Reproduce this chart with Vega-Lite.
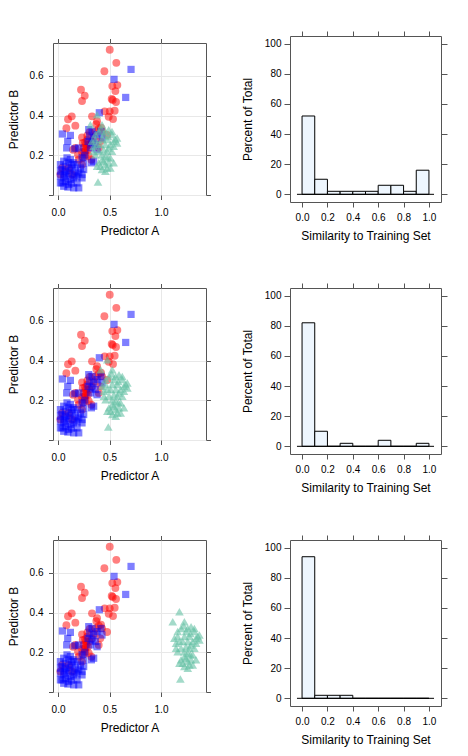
{
  "$schema": "https://vega.github.io/schema/vega-lite/v6.json",
  "background": "white",
  "padding": {"left": 6, "top": 30, "right": 5, "bottom": 5},
  "autosize": {"type": "pad"},
  "columns": 2,
  "bounds": "flush",
  "center": true,
  "spacing": {"row": 86, "column": 84},
  "config": {
    "view": {"stroke": "#555", "strokeWidth": 1},
    "axis": {"domain": false, "tickColor": "#555", "labelFont": "Liberation Sans", "titleFont": "Liberation Sans", "labelFontSize": 10, "titleFontSize": 12, "titleFontWeight": "normal", "labelColor": "#000", "titleColor": "#000", "labelFlush": false, "labelOverlap": false}
  },
  "datasets": {
    "red": [{"a":0.502,"b":0.731},{"a":0.566,"b":0.665},{"a":0.450,"b":0.623},{"a":0.527,"b":0.548},{"a":0.576,"b":0.553},{"a":0.557,"b":0.523},{"a":0.521,"b":0.483},{"a":0.531,"b":0.478},{"a":0.563,"b":0.468},{"a":0.223,"b":0.530},{"a":0.259,"b":0.500},{"a":0.233,"b":0.473},{"a":0.133,"b":0.396},{"a":0.097,"b":0.381},{"a":0.081,"b":0.336},{"a":0.168,"b":0.349},{"a":0.453,"b":0.421},{"a":0.502,"b":0.421},{"a":0.550,"b":0.424},{"a":0.492,"b":0.394},{"a":0.534,"b":0.382},{"a":0.330,"b":0.396},{"a":0.379,"b":0.371},{"a":0.372,"b":0.357},{"a":0.417,"b":0.339},{"a":0.427,"b":0.320},{"a":0.476,"b":0.302},{"a":0.233,"b":0.290},{"a":0.282,"b":0.279},{"a":0.272,"b":0.254},{"a":0.249,"b":0.237},{"a":0.291,"b":0.228},{"a":0.233,"b":0.217},{"a":0.265,"b":0.203},{"a":0.298,"b":0.195},{"a":0.324,"b":0.178},{"a":0.243,"b":0.187},{"a":0.304,"b":0.254},{"a":0.330,"b":0.270},{"a":0.356,"b":0.295},{"a":0.307,"b":0.317},{"a":0.395,"b":0.334},{"a":0.362,"b":0.320},{"a":0.146,"b":0.228},{"a":0.168,"b":0.237},{"a":0.194,"b":0.203},{"a":0.104,"b":0.136},{"a":0.039,"b":0.136},{"a":0.023,"b":0.103},{"a":0.136,"b":0.103},{"a":0.233,"b":0.153},{"a":0.201,"b":0.178},{"a":0.395,"b":0.237},{"a":0.411,"b":0.270},{"a":0.262,"b":0.265},{"a":0.275,"b":0.240},{"a":0.255,"b":0.215},{"a":0.285,"b":0.300},{"a":0.268,"b":0.225},{"a":0.240,"b":0.262}],
    "blue": [{"a":0.709,"b":0.632},{"a":0.544,"b":0.582},{"a":0.657,"b":0.491},{"a":0.401,"b":0.414},{"a":0.042,"b":0.307},{"a":0.120,"b":0.300},{"a":0.094,"b":0.270},{"a":0.084,"b":0.237},{"a":0.023,"b":0.153},{"a":0.055,"b":0.170},{"a":0.087,"b":0.187},{"a":0.120,"b":0.178},{"a":0.152,"b":0.162},{"a":0.185,"b":0.153},{"a":0.039,"b":0.128},{"a":0.071,"b":0.120},{"a":0.104,"b":0.111},{"a":0.136,"b":0.136},{"a":0.168,"b":0.120},{"a":0.201,"b":0.111},{"a":0.233,"b":0.103},{"a":0.023,"b":0.095},{"a":0.055,"b":0.086},{"a":0.087,"b":0.095},{"a":0.120,"b":0.078},{"a":0.152,"b":0.086},{"a":0.185,"b":0.095},{"a":0.039,"b":0.061},{"a":0.071,"b":0.069},{"a":0.104,"b":0.053},{"a":0.055,"b":0.044},{"a":0.152,"b":0.036},{"a":0.201,"b":0.036},{"a":0.185,"b":0.061},{"a":0.233,"b":0.086},{"a":0.136,"b":0.153},{"a":0.104,"b":0.162},{"a":0.071,"b":0.145},{"a":0.023,"b":0.120},{"a":0.249,"b":0.128},{"a":0.217,"b":0.136},{"a":0.023,"b":0.061},{"a":0.298,"b":0.329},{"a":0.330,"b":0.320},{"a":0.307,"b":0.295},{"a":0.346,"b":0.287},{"a":0.379,"b":0.304},{"a":0.330,"b":0.262},{"a":0.291,"b":0.270},{"a":0.362,"b":0.254},{"a":0.379,"b":0.228},{"a":0.346,"b":0.170},{"a":0.324,"b":0.162},{"a":0.259,"b":0.200},{"a":0.233,"b":0.187},{"a":0.201,"b":0.237},{"a":0.162,"b":0.233},{"a":0.427,"b":0.287},{"a":0.417,"b":0.320},{"a":0.314,"b":0.237},{"a":0.249,"b":0.162},{"a":0.095,"b":0.040},{"a":0.130,"b":0.060},{"a":0.060,"b":0.105},{"a":0.115,"b":0.125},{"a":0.160,"b":0.100}],
    "g1": [{"a":0.379,"b":0.404},{"a":0.314,"b":0.354},{"a":0.427,"b":0.354},{"a":0.492,"b":0.329},{"a":0.460,"b":0.320},{"a":0.395,"b":0.320},{"a":0.362,"b":0.304},{"a":0.573,"b":0.287},{"a":0.557,"b":0.279},{"a":0.524,"b":0.304},{"a":0.485,"b":0.295},{"a":0.427,"b":0.279},{"a":0.411,"b":0.254},{"a":0.460,"b":0.254},{"a":0.508,"b":0.254},{"a":0.540,"b":0.245},{"a":0.492,"b":0.237},{"a":0.443,"b":0.228},{"a":0.379,"b":0.254},{"a":0.346,"b":0.245},{"a":0.395,"b":0.220},{"a":0.476,"b":0.220},{"a":0.524,"b":0.220},{"a":0.427,"b":0.203},{"a":0.460,"b":0.195},{"a":0.508,"b":0.187},{"a":0.427,"b":0.178},{"a":0.395,"b":0.162},{"a":0.443,"b":0.170},{"a":0.460,"b":0.153},{"a":0.492,"b":0.162},{"a":0.411,"b":0.145},{"a":0.476,"b":0.136},{"a":0.508,"b":0.136},{"a":0.427,"b":0.128},{"a":0.379,"b":0.145},{"a":0.388,"b":0.066},{"a":0.540,"b":0.270},{"a":0.362,"b":0.279},{"a":0.330,"b":0.270},{"a":0.420,"b":0.334},{"a":0.443,"b":0.304},{"a":0.476,"b":0.279},{"a":0.362,"b":0.203},{"a":0.540,"b":0.162},{"a":0.346,"b":0.220},{"a":0.524,"b":0.320},{"a":0.573,"b":0.262},{"a":0.460,"b":0.120},{"a":0.485,"b":0.187}],
    "g2": [{"a":0.479,"b":0.404},{"a":0.414,"b":0.354},{"a":0.527,"b":0.354},{"a":0.592,"b":0.329},{"a":0.560,"b":0.320},{"a":0.495,"b":0.320},{"a":0.462,"b":0.304},{"a":0.673,"b":0.287},{"a":0.657,"b":0.279},{"a":0.624,"b":0.304},{"a":0.585,"b":0.295},{"a":0.527,"b":0.279},{"a":0.511,"b":0.254},{"a":0.560,"b":0.254},{"a":0.608,"b":0.254},{"a":0.640,"b":0.245},{"a":0.592,"b":0.237},{"a":0.543,"b":0.228},{"a":0.479,"b":0.254},{"a":0.446,"b":0.245},{"a":0.495,"b":0.220},{"a":0.576,"b":0.220},{"a":0.624,"b":0.220},{"a":0.527,"b":0.203},{"a":0.560,"b":0.195},{"a":0.608,"b":0.187},{"a":0.527,"b":0.178},{"a":0.495,"b":0.162},{"a":0.543,"b":0.170},{"a":0.560,"b":0.153},{"a":0.592,"b":0.162},{"a":0.511,"b":0.145},{"a":0.576,"b":0.136},{"a":0.608,"b":0.136},{"a":0.527,"b":0.128},{"a":0.479,"b":0.145},{"a":0.488,"b":0.066},{"a":0.640,"b":0.270},{"a":0.462,"b":0.279},{"a":0.430,"b":0.270},{"a":0.520,"b":0.334},{"a":0.543,"b":0.304},{"a":0.576,"b":0.279},{"a":0.462,"b":0.203},{"a":0.640,"b":0.162},{"a":0.446,"b":0.220},{"a":0.624,"b":0.320},{"a":0.673,"b":0.262},{"a":0.560,"b":0.120},{"a":0.585,"b":0.187}],
    "g3": [{"a":1.179,"b":0.404},{"a":1.114,"b":0.354},{"a":1.227,"b":0.354},{"a":1.292,"b":0.329},{"a":1.260,"b":0.320},{"a":1.195,"b":0.320},{"a":1.162,"b":0.304},{"a":1.373,"b":0.287},{"a":1.357,"b":0.279},{"a":1.324,"b":0.304},{"a":1.285,"b":0.295},{"a":1.227,"b":0.279},{"a":1.211,"b":0.254},{"a":1.260,"b":0.254},{"a":1.308,"b":0.254},{"a":1.340,"b":0.245},{"a":1.292,"b":0.237},{"a":1.243,"b":0.228},{"a":1.179,"b":0.254},{"a":1.146,"b":0.245},{"a":1.195,"b":0.220},{"a":1.276,"b":0.220},{"a":1.324,"b":0.220},{"a":1.227,"b":0.203},{"a":1.260,"b":0.195},{"a":1.308,"b":0.187},{"a":1.227,"b":0.178},{"a":1.195,"b":0.162},{"a":1.243,"b":0.170},{"a":1.260,"b":0.153},{"a":1.292,"b":0.162},{"a":1.211,"b":0.145},{"a":1.276,"b":0.136},{"a":1.308,"b":0.136},{"a":1.227,"b":0.128},{"a":1.179,"b":0.145},{"a":1.188,"b":0.066},{"a":1.340,"b":0.270},{"a":1.162,"b":0.279},{"a":1.130,"b":0.270},{"a":1.220,"b":0.334},{"a":1.243,"b":0.304},{"a":1.276,"b":0.279},{"a":1.162,"b":0.203},{"a":1.340,"b":0.162},{"a":1.146,"b":0.220},{"a":1.324,"b":0.320},{"a":1.373,"b":0.262},{"a":1.260,"b":0.120},{"a":1.285,"b":0.187}],
    "h1": [{"x0":0.0,"x1":0.1,"pct":52},{"x0":0.1,"x1":0.2,"pct":10},{"x0":0.2,"x1":0.3,"pct":2},{"x0":0.3,"x1":0.4,"pct":2},{"x0":0.4,"x1":0.5,"pct":2},{"x0":0.5,"x1":0.6,"pct":2},{"x0":0.6,"x1":0.7,"pct":6},{"x0":0.7,"x1":0.8,"pct":6},{"x0":0.8,"x1":0.9,"pct":2},{"x0":0.9,"x1":1.0,"pct":16}],
    "h2": [{"x0":0.0,"x1":0.1,"pct":82},{"x0":0.1,"x1":0.2,"pct":10},{"x0":0.2,"x1":0.3,"pct":0},{"x0":0.3,"x1":0.4,"pct":2},{"x0":0.4,"x1":0.5,"pct":0},{"x0":0.5,"x1":0.6,"pct":0},{"x0":0.6,"x1":0.7,"pct":4},{"x0":0.7,"x1":0.8,"pct":0},{"x0":0.8,"x1":0.9,"pct":0},{"x0":0.9,"x1":1.0,"pct":2}],
    "h3": [{"x0":0.0,"x1":0.1,"pct":94},{"x0":0.1,"x1":0.2,"pct":2},{"x0":0.2,"x1":0.3,"pct":2},{"x0":0.3,"x1":0.4,"pct":2},{"x0":0.4,"x1":0.5,"pct":0},{"x0":0.5,"x1":0.6,"pct":0},{"x0":0.6,"x1":0.7,"pct":0},{"x0":0.7,"x1":0.8,"pct":0},{"x0":0.8,"x1":0.9,"pct":0},{"x0":0.9,"x1":1.0,"pct":0}],
    "base": [{"x0":-0.04,"x1":1.04}]
  },
  "concat": [
    {
      "width": 153, "height": 152,
      "layer": [
        {"data": {"name": "red"}, "mark": {"type": "point", "shape": "circle", "filled": true, "color": "#FF0000", "opacity": 0.5, "size": 62, "strokeWidth": 0},
         "encoding": {
           "x": {"field": "a", "type": "quantitative", "scale": {"domain": [-0.049, 1.437], "nice": false, "zero": false}, "axis": {"orient": "bottom", "values": [0, 0.5, 1], "format": ".1f", "title": "Predictor A", "grid": true, "gridColor": "#E8E8E8", "tickSize": 4.5, "labelPadding": 8, "titlePadding": 8}},
           "y": {"field": "b", "type": "quantitative", "scale": {"domain": [0, 0.765], "nice": false, "zero": false}, "axis": {"orient": "left", "values": [0, 0.2, 0.4, 0.6], "labelExpr": "datum.value == 0 ? '' : format(datum.value, '.1f')", "title": "Predictor B", "grid": true, "gridColor": "#E8E8E8", "tickSize": 4.5, "labelPadding": 5.5, "titlePadding": 8.6}}
         }},
        {"data": {"name": "blue"}, "mark": {"type": "point", "shape": "square", "filled": true, "color": "#0000FF", "opacity": 0.5, "size": 52, "strokeWidth": 0},
         "encoding": {
           "x": {"field": "a", "type": "quantitative", "axis": {"orient": "top", "values": [0, 0.5, 1], "labels": false, "title": null, "grid": false, "tickSize": 4.5}},
           "y": {"field": "b", "type": "quantitative", "axis": {"orient": "right", "values": [0, 0.2, 0.4, 0.6], "labels": false, "title": null, "grid": false, "tickSize": 4.5}}
         }},
        {"data": {"name": "g1"}, "mark": {"type": "point", "shape": "triangle-up", "filled": true, "color": "#66C2A5", "opacity": 0.6, "size": 75, "strokeWidth": 0},
         "encoding": {
           "x": {"field": "a", "type": "quantitative", "axis": null},
           "y": {"field": "b", "type": "quantitative", "axis": null}
         }}
      ],
      "resolve": {"axis": {"x": "independent", "y": "independent"}}
    },
    {
      "width": 151, "height": 166,
      "layer": [
        {"data": {"name": "h1"}, "mark": {"type": "rect", "fill": "#EEF6FE", "stroke": "#000", "strokeWidth": 1},
         "encoding": {
           "x": {"field": "x0", "type": "quantitative", "scale": {"domain": [-0.095, 1.095], "nice": false, "zero": false}, "axis": {"orient": "bottom", "values": [0, 0.2, 0.4, 0.6, 0.8, 1], "format": ".1f", "title": "Similarity to Training Set", "grid": false, "tickSize": 5, "labelPadding": 5, "titlePadding": 8}},
           "x2": {"field": "x1"},
           "y": {"field": "pct", "type": "quantitative", "scale": {"domain": [-5.1, 105.1], "nice": false, "zero": false}, "axis": {"orient": "left", "values": [0, 20, 40, 60, 80, 100], "title": "Percent of Total", "grid": false, "tickSize": 6, "labelPadding": 3, "titlePadding": 9.4}},
           "y2": {"datum": 0}
         }},
        {"data": {"name": "base"}, "mark": {"type": "rule", "color": "#000", "strokeWidth": 1},
         "encoding": {
           "x": {"field": "x0", "type": "quantitative", "axis": {"orient": "top", "values": [0, 0.2, 0.4, 0.6, 0.8, 1], "labels": false, "title": null, "tickSize": 5}},
           "x2": {"field": "x1"},
           "y": {"datum": 0, "type": "quantitative", "axis": {"orient": "right", "values": [0, 20, 40, 60, 80, 100], "labels": false, "title": null, "tickSize": 6}}
         }}
      ],
      "resolve": {"axis": {"x": "independent", "y": "independent"}}
    },
    {
      "width": 153, "height": 152,
      "layer": [
        {"data": {"name": "red"}, "mark": {"type": "point", "shape": "circle", "filled": true, "color": "#FF0000", "opacity": 0.5, "size": 62, "strokeWidth": 0},
         "encoding": {
           "x": {"field": "a", "type": "quantitative", "scale": {"domain": [-0.049, 1.437], "nice": false, "zero": false}, "axis": {"orient": "bottom", "values": [0, 0.5, 1], "format": ".1f", "title": "Predictor A", "grid": true, "gridColor": "#E8E8E8", "tickSize": 4.5, "labelPadding": 8, "titlePadding": 8}},
           "y": {"field": "b", "type": "quantitative", "scale": {"domain": [0, 0.765], "nice": false, "zero": false}, "axis": {"orient": "left", "values": [0, 0.2, 0.4, 0.6], "labelExpr": "datum.value == 0 ? '' : format(datum.value, '.1f')", "title": "Predictor B", "grid": true, "gridColor": "#E8E8E8", "tickSize": 4.5, "labelPadding": 5.5, "titlePadding": 8.6}}
         }},
        {"data": {"name": "blue"}, "mark": {"type": "point", "shape": "square", "filled": true, "color": "#0000FF", "opacity": 0.5, "size": 52, "strokeWidth": 0},
         "encoding": {
           "x": {"field": "a", "type": "quantitative", "axis": {"orient": "top", "values": [0, 0.5, 1], "labels": false, "title": null, "grid": false, "tickSize": 4.5}},
           "y": {"field": "b", "type": "quantitative", "axis": {"orient": "right", "values": [0, 0.2, 0.4, 0.6], "labels": false, "title": null, "grid": false, "tickSize": 4.5}}
         }},
        {"data": {"name": "g2"}, "mark": {"type": "point", "shape": "triangle-up", "filled": true, "color": "#66C2A5", "opacity": 0.6, "size": 75, "strokeWidth": 0},
         "encoding": {
           "x": {"field": "a", "type": "quantitative", "axis": null},
           "y": {"field": "b", "type": "quantitative", "axis": null}
         }}
      ],
      "resolve": {"axis": {"x": "independent", "y": "independent"}}
    },
    {
      "width": 151, "height": 166,
      "layer": [
        {"data": {"name": "h2"}, "mark": {"type": "rect", "fill": "#EEF6FE", "stroke": "#000", "strokeWidth": 1},
         "encoding": {
           "x": {"field": "x0", "type": "quantitative", "scale": {"domain": [-0.095, 1.095], "nice": false, "zero": false}, "axis": {"orient": "bottom", "values": [0, 0.2, 0.4, 0.6, 0.8, 1], "format": ".1f", "title": "Similarity to Training Set", "grid": false, "tickSize": 5, "labelPadding": 5, "titlePadding": 8}},
           "x2": {"field": "x1"},
           "y": {"field": "pct", "type": "quantitative", "scale": {"domain": [-5.1, 105.1], "nice": false, "zero": false}, "axis": {"orient": "left", "values": [0, 20, 40, 60, 80, 100], "title": "Percent of Total", "grid": false, "tickSize": 6, "labelPadding": 3, "titlePadding": 9.4}},
           "y2": {"datum": 0}
         }},
        {"data": {"name": "base"}, "mark": {"type": "rule", "color": "#000", "strokeWidth": 1},
         "encoding": {
           "x": {"field": "x0", "type": "quantitative", "axis": {"orient": "top", "values": [0, 0.2, 0.4, 0.6, 0.8, 1], "labels": false, "title": null, "tickSize": 5}},
           "x2": {"field": "x1"},
           "y": {"datum": 0, "type": "quantitative", "axis": {"orient": "right", "values": [0, 20, 40, 60, 80, 100], "labels": false, "title": null, "tickSize": 6}}
         }}
      ],
      "resolve": {"axis": {"x": "independent", "y": "independent"}}
    },
    {
      "width": 153, "height": 152,
      "layer": [
        {"data": {"name": "red"}, "mark": {"type": "point", "shape": "circle", "filled": true, "color": "#FF0000", "opacity": 0.5, "size": 62, "strokeWidth": 0},
         "encoding": {
           "x": {"field": "a", "type": "quantitative", "scale": {"domain": [-0.049, 1.437], "nice": false, "zero": false}, "axis": {"orient": "bottom", "values": [0, 0.5, 1], "format": ".1f", "title": "Predictor A", "grid": true, "gridColor": "#E8E8E8", "tickSize": 4.5, "labelPadding": 8, "titlePadding": 8}},
           "y": {"field": "b", "type": "quantitative", "scale": {"domain": [0, 0.765], "nice": false, "zero": false}, "axis": {"orient": "left", "values": [0, 0.2, 0.4, 0.6], "labelExpr": "datum.value == 0 ? '' : format(datum.value, '.1f')", "title": "Predictor B", "grid": true, "gridColor": "#E8E8E8", "tickSize": 4.5, "labelPadding": 5.5, "titlePadding": 8.6}}
         }},
        {"data": {"name": "blue"}, "mark": {"type": "point", "shape": "square", "filled": true, "color": "#0000FF", "opacity": 0.5, "size": 52, "strokeWidth": 0},
         "encoding": {
           "x": {"field": "a", "type": "quantitative", "axis": {"orient": "top", "values": [0, 0.5, 1], "labels": false, "title": null, "grid": false, "tickSize": 4.5}},
           "y": {"field": "b", "type": "quantitative", "axis": {"orient": "right", "values": [0, 0.2, 0.4, 0.6], "labels": false, "title": null, "grid": false, "tickSize": 4.5}}
         }},
        {"data": {"name": "g3"}, "mark": {"type": "point", "shape": "triangle-up", "filled": true, "color": "#66C2A5", "opacity": 0.6, "size": 75, "strokeWidth": 0},
         "encoding": {
           "x": {"field": "a", "type": "quantitative", "axis": null},
           "y": {"field": "b", "type": "quantitative", "axis": null}
         }}
      ],
      "resolve": {"axis": {"x": "independent", "y": "independent"}}
    },
    {
      "width": 151, "height": 166,
      "layer": [
        {"data": {"name": "h3"}, "mark": {"type": "rect", "fill": "#EEF6FE", "stroke": "#000", "strokeWidth": 1},
         "encoding": {
           "x": {"field": "x0", "type": "quantitative", "scale": {"domain": [-0.095, 1.095], "nice": false, "zero": false}, "axis": {"orient": "bottom", "values": [0, 0.2, 0.4, 0.6, 0.8, 1], "format": ".1f", "title": "Similarity to Training Set", "grid": false, "tickSize": 5, "labelPadding": 5, "titlePadding": 8}},
           "x2": {"field": "x1"},
           "y": {"field": "pct", "type": "quantitative", "scale": {"domain": [-5.1, 105.1], "nice": false, "zero": false}, "axis": {"orient": "left", "values": [0, 20, 40, 60, 80, 100], "title": "Percent of Total", "grid": false, "tickSize": 6, "labelPadding": 3, "titlePadding": 9.4}},
           "y2": {"datum": 0}
         }},
        {"data": {"name": "base"}, "mark": {"type": "rule", "color": "#000", "strokeWidth": 1},
         "encoding": {
           "x": {"field": "x0", "type": "quantitative", "axis": {"orient": "top", "values": [0, 0.2, 0.4, 0.6, 0.8, 1], "labels": false, "title": null, "tickSize": 5}},
           "x2": {"field": "x1"},
           "y": {"datum": 0, "type": "quantitative", "axis": {"orient": "right", "values": [0, 20, 40, 60, 80, 100], "labels": false, "title": null, "tickSize": 6}}
         }}
      ],
      "resolve": {"axis": {"x": "independent", "y": "independent"}}
    }
  ]
}
